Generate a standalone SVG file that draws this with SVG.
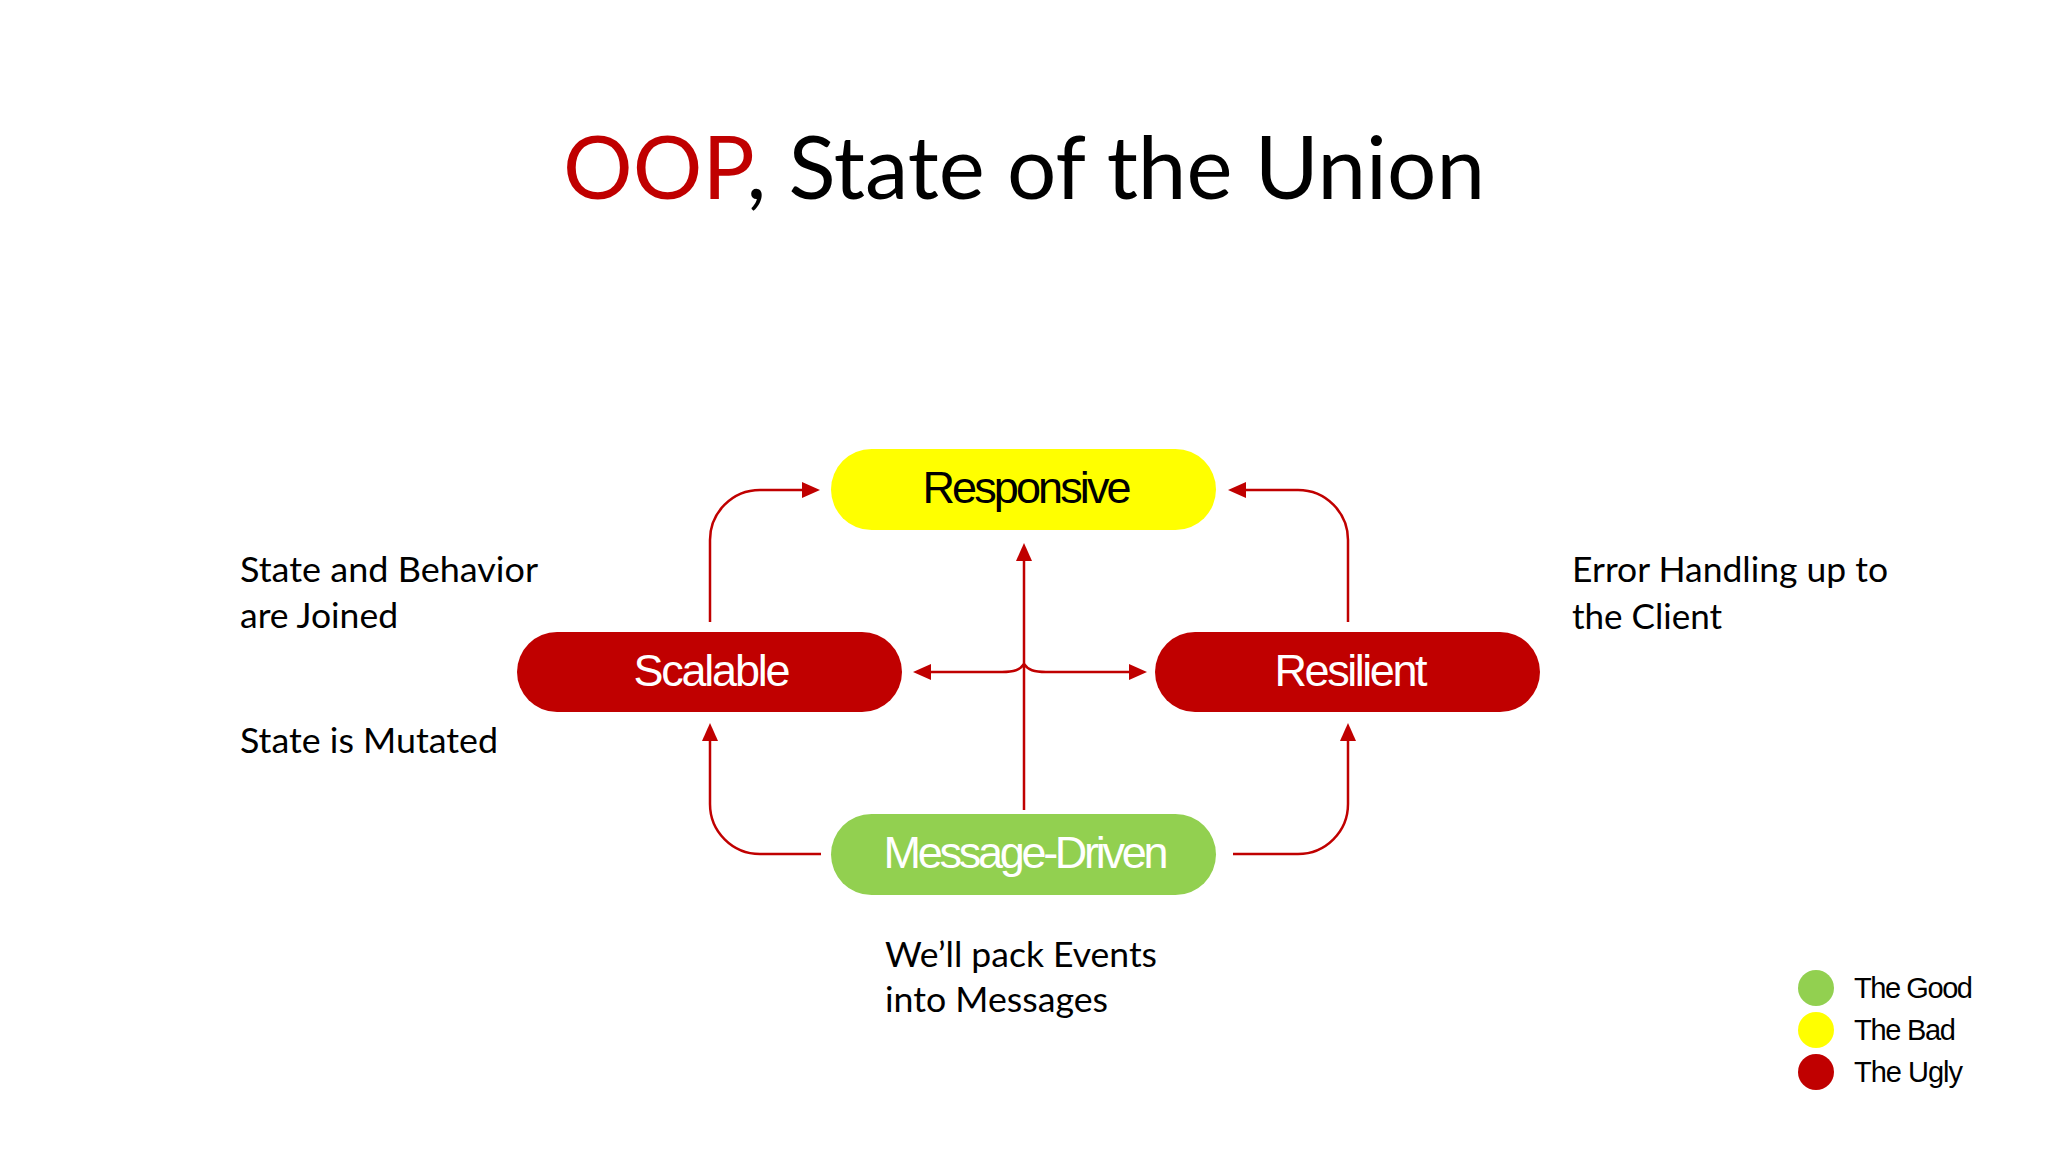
<svg xmlns="http://www.w3.org/2000/svg" width="2048" height="1152" viewBox="0 0 2048 1152">
  <style>
    .body { font-family: Lato, "Open Sans", sans-serif; font-size: 34px; fill: #000; }
    .pilltxt { font-family: "Liberation Sans", Arial, sans-serif; font-size: 45px; text-anchor: middle; }
    .legend { font-family: "Liberation Sans", Arial, sans-serif; font-size: 29px; fill: #000; }
    .conn { fill: none; stroke: #C00000; stroke-width: 2.5; }
  </style>
  <defs>
    <marker id="arrow" markerUnits="userSpaceOnUse" markerWidth="18" markerHeight="16" refX="10" refY="8" orient="auto">
      <path d="M0,0 L18,8 L0,16 z" fill="#C00000"/>
    </marker>
  </defs>
  <rect width="2048" height="1152" fill="#FFFFFF"/>

  <g id="title">
    <text x="563" y="199" font-family="Lato, 'Open Sans', sans-serif" font-size="88" textLength="922" lengthAdjust="spacingAndGlyphs"><tspan fill="#C00000">OOP</tspan><tspan fill="#000000">, State of the Union</tspan></text>
  </g>

  <g id="connectors">
    <path class="conn" d="M 710 622 V 540 A 50 50 0 0 1 760 490 H 812" marker-end="url(#arrow)"/>
    <path class="conn" d="M 1348 622 V 540 A 50 50 0 0 0 1298 490 H 1236" marker-end="url(#arrow)"/>
    <path class="conn" d="M 1024 810 V 551" marker-end="url(#arrow)"/>
    <path class="conn" d="M 821 854 H 760 A 50 50 0 0 1 710 804 V 731" marker-end="url(#arrow)"/>
    <path class="conn" d="M 1233 854 H 1298 A 50 50 0 0 0 1348 804 V 731" marker-end="url(#arrow)"/>
    <path class="conn" d="M 1024 664 C 1020 670 1014 672 1002 672 H 921" marker-end="url(#arrow)"/>
    <path class="conn" d="M 1024 664 C 1028 670 1034 672 1046 672 H 1139" marker-end="url(#arrow)"/>
  </g>

  <g id="responsive">
    <rect x="831" y="449" width="385" height="81" rx="40.5" fill="#FFFF00"/>
    <text class="pilltxt" x="1027" y="503" fill="#000" textLength="209" lengthAdjust="spacing">Responsive</text>
  </g>
  <g id="scalable">
    <rect x="517" y="632" width="385" height="80" rx="40" fill="#C00000"/>
    <text class="pilltxt" x="712" y="686" fill="#FFF" textLength="157" lengthAdjust="spacing">Scalable</text>
  </g>
  <g id="resilient">
    <rect x="1155" y="632" width="385" height="80" rx="40" fill="#C00000"/>
    <text class="pilltxt" x="1351" y="686" fill="#FFF" textLength="153" lengthAdjust="spacing">Resilient</text>
  </g>
  <g id="message-driven">
    <rect x="831" y="814" width="385" height="81" rx="40.5" fill="#92D050"/>
    <text class="pilltxt" x="1026" y="868" fill="#FFF" textLength="285" lengthAdjust="spacing">Message-Driven</text>
  </g>

  <g id="note-left">
    <text class="body" x="240" y="582" textLength="298" lengthAdjust="spacingAndGlyphs">State and Behavior</text>
    <text class="body" x="240" y="628" textLength="158" lengthAdjust="spacingAndGlyphs">are Joined</text>
    <text class="body" x="240" y="753" textLength="258" lengthAdjust="spacingAndGlyphs">State is Mutated</text>
  </g>
  <g id="note-right">
    <text class="body" x="1572" y="582" textLength="316" lengthAdjust="spacingAndGlyphs">Error Handling up to</text>
    <text class="body" x="1572" y="629" textLength="150" lengthAdjust="spacingAndGlyphs">the Client</text>
  </g>
  <g id="note-bottom">
    <text class="body" x="885" y="967" textLength="272" lengthAdjust="spacingAndGlyphs">We’ll pack Events</text>
    <text class="body" x="885" y="1012" textLength="223" lengthAdjust="spacingAndGlyphs">into Messages</text>
  </g>

  <g id="legend">
    <circle cx="1816" cy="988" r="18" fill="#92D050"/>
    <text class="legend" x="1854" y="998" textLength="119" lengthAdjust="spacing">The Good</text>
    <circle cx="1816" cy="1030" r="18" fill="#FFFF00"/>
    <text class="legend" x="1854" y="1040" textLength="102" lengthAdjust="spacing">The Bad</text>
    <circle cx="1816" cy="1072" r="18" fill="#C00000"/>
    <text class="legend" x="1854" y="1082" textLength="109" lengthAdjust="spacing">The Ugly</text>
  </g>
</svg>
